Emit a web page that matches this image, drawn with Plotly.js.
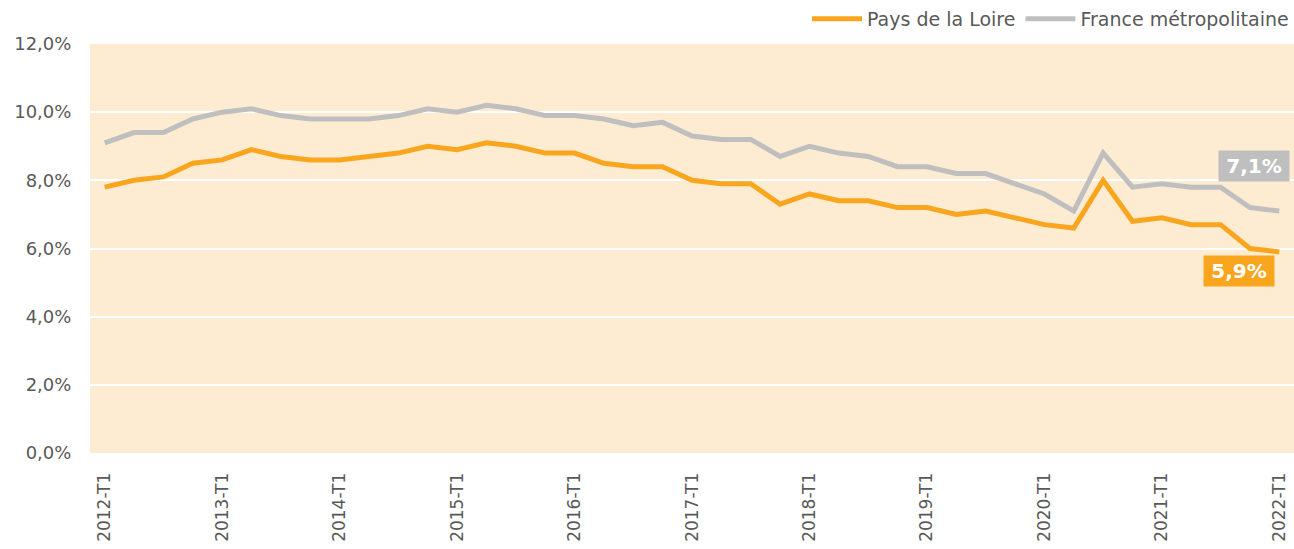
<!DOCTYPE html>
<html>
<head>
<meta charset="utf-8">
<script src="https://cdn.plot.ly/plotly-3.0.1.min.js"></script>
<style>html,body{margin:0;padding:0;background:#fff;}#chart{width:1294px;height:549px;}</style>
</head>
<body>
<div id="chart"></div>
<script>
const quarters = [
  "2012-T1","2012-T2","2012-T3","2012-T4",
  "2013-T1","2013-T2","2013-T3","2013-T4",
  "2014-T1","2014-T2","2014-T3","2014-T4",
  "2015-T1","2015-T2","2015-T3","2015-T4",
  "2016-T1","2016-T2","2016-T3","2016-T4",
  "2017-T1","2017-T2","2017-T3","2017-T4",
  "2018-T1","2018-T2","2018-T3","2018-T4",
  "2019-T1","2019-T2","2019-T3","2019-T4",
  "2020-T1","2020-T2","2020-T3","2020-T4",
  "2021-T1","2021-T2","2021-T3","2021-T4",
  "2022-T1"
];
const paysDeLaLoire = [
  7.8, 8.0, 8.1, 8.5,
  8.6, 8.9, 8.7, 8.6,
  8.6, 8.7, 8.8, 9.0,
  8.9, 9.1, 9.0, 8.8,
  8.8, 8.5, 8.4, 8.4,
  8.0, 7.9, 7.9, 7.3,
  7.6, 7.4, 7.4, 7.2,
  7.2, 7.0, 7.1, 6.9,
  6.7, 6.6, 8.0, 6.8,
  6.9, 6.7, 6.7, 6.0,
  5.9
];
const franceMetro = [
  9.1, 9.4, 9.4, 9.8,
  10.0, 10.1, 9.9, 9.8,
  9.8, 9.8, 9.9, 10.1,
  10.0, 10.2, 10.1, 9.9,
  9.9, 9.8, 9.6, 9.7,
  9.3, 9.2, 9.2, 8.7,
  9.0, 8.8, 8.7, 8.4,
  8.4, 8.2, 8.2, 7.9,
  7.6, 7.1, 8.8, 7.8,
  7.9, 7.8, 7.8, 7.2,
  7.1
];
const seriesNames = ["Pays de la Loire", "France métropolitaine"];
const yTicks = [0, 2, 4, 6, 8, 10, 12];

const ORANGE = "#F9A61E";
const GREY = "#BFBFBF";
const FONT = "DejaVu Sans";

const xTickVals = quarters.filter(q => q.endsWith("-T1"));
const fmt = v => v.toFixed(1).replace(".", ",") + "%";
const last = quarters[quarters.length - 1];

const traces = [
  {x: quarters, y: paysDeLaLoire, name: seriesNames[0], type: "scatter", mode: "lines",
   line: {color: ORANGE, width: 5}, hoverinfo: "skip"},
  {x: quarters, y: franceMetro, name: seriesNames[1], type: "scatter", mode: "lines",
   line: {color: GREY, width: 5}, hoverinfo: "skip"}
];

const layout = {
  width: 1294, height: 549,
  margin: {l: 90, r: 0, t: 44, b: 96},
  paper_bgcolor: "#FFFFFF",
  plot_bgcolor: "#FDECD2",
  font: {family: FONT, color: "#595959", size: 16.5},
  showlegend: true,
  legend: {orientation: "h", x: 1, xanchor: "right", y: 1, yanchor: "top",
           yref: "container", font: {family: FONT, size: 19, color: "#595959"},
           traceorder: "normal", itemwidth: 50, bgcolor: "rgba(0,0,0,0)"},
  xaxis: {type: "category", categoryorder: "array", categoryarray: quarters,
          range: [-0.5, quarters.length - 0.5], tickmode: "array",
          tickvals: xTickVals, ticktext: xTickVals, tickangle: -90,
          showgrid: false, zeroline: false, showline: false,
          ticks: "outside", ticklen: 12, tickcolor: "rgba(0,0,0,0)",
          tickfont: {family: FONT, size: 17, color: "#595959"}, fixedrange: true},
  yaxis: {range: [0, 12], tickmode: "array", tickvals: yTicks, ticktext: yTicks.map(fmt),
          showgrid: true, gridcolor: "#FFFFFF", gridwidth: 2,
          zeroline: false, showline: false,
          ticks: "outside", ticklen: 14, tickcolor: "rgba(0,0,0,0)",
          tickfont: {family: FONT, size: 18, color: "#595959"}, fixedrange: true},
  annotations: [
    {x: last, y: franceMetro[franceMetro.length - 1], xref: "x", yref: "y",
     text: "<b>" + fmt(franceMetro[franceMetro.length - 1]) + "</b>", showarrow: false,
     xanchor: "center", yanchor: "middle", xshift: -25, yshift: 45,
     bgcolor: GREY, borderpad: 3, width: 64, height: 24,
     font: {family: FONT, size: 20, color: "#FFFFFF"}},
    {x: last, y: paysDeLaLoire[paysDeLaLoire.length - 1], xref: "x", yref: "y",
     text: "<b>" + fmt(paysDeLaLoire[paysDeLaLoire.length - 1]) + "</b>", showarrow: false,
     xanchor: "center", yanchor: "middle", xshift: -40, yshift: -19,
     bgcolor: ORANGE, borderpad: 3, width: 64, height: 24,
     font: {family: FONT, size: 20, color: "#FFFFFF"}}
  ]
};

Plotly.newPlot("chart", traces, layout, {displayModeBar: false, staticPlot: true});
</script>
</body>
</html>
